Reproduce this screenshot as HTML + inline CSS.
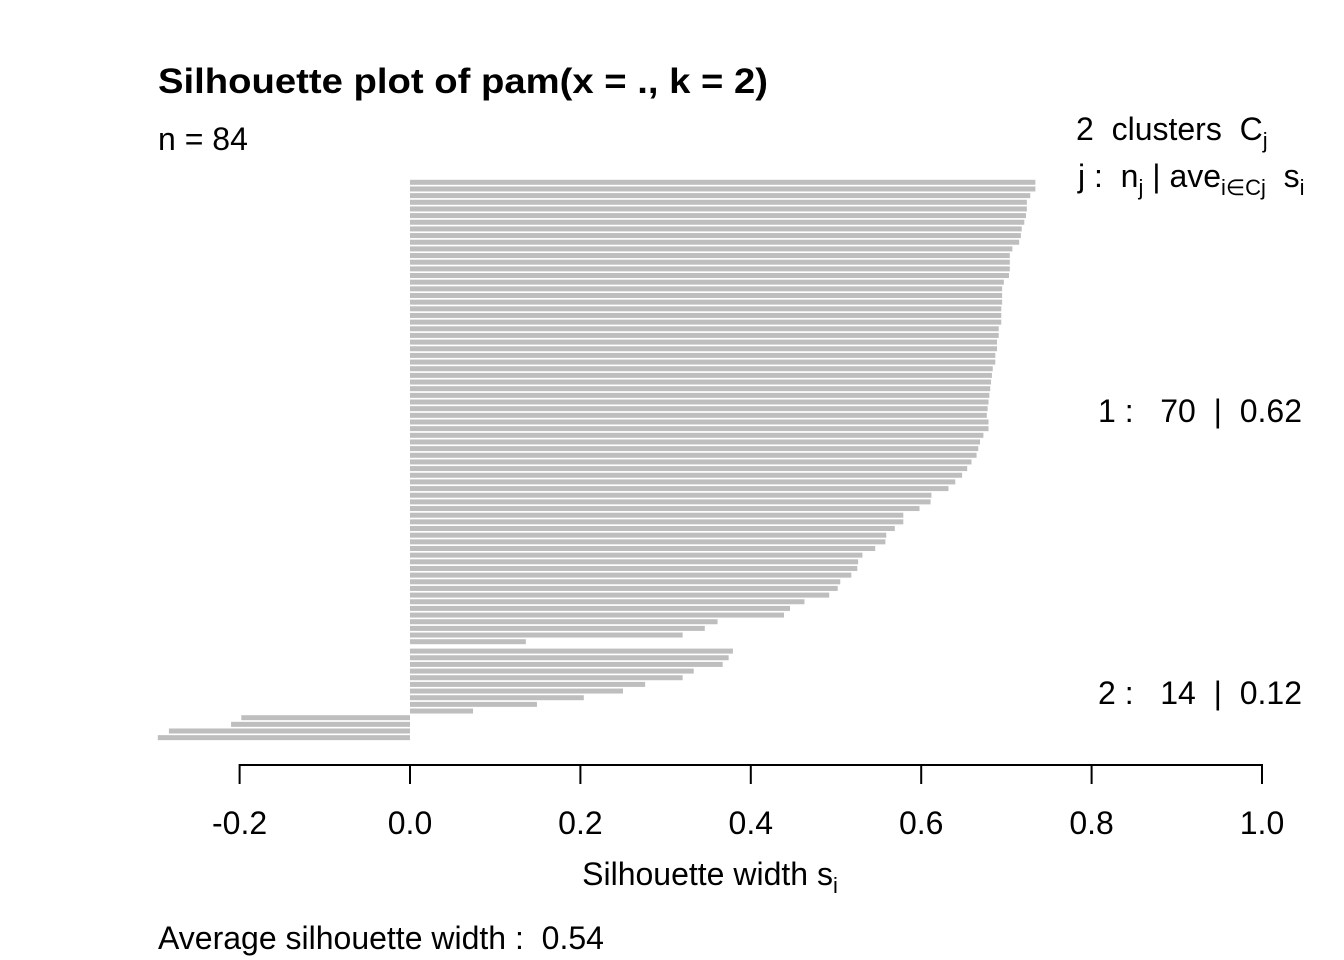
<!DOCTYPE html>
<html><head><meta charset="utf-8"><style>
html,body{margin:0;padding:0;background:#fff}
svg{display:block;font-family:"Liberation Sans",Arial,sans-serif}
text{white-space:pre}
</style></head><body>
<svg id="chart" width="1344" height="960" viewBox="0 0 1344 960" xmlns="http://www.w3.org/2000/svg">
<text x="158" y="93" font-size="35" font-weight="bold" textLength="610" lengthAdjust="spacingAndGlyphs">Silhouette plot of pam(x = ., k = 2)</text>
<text x="158" y="150" font-size="32">n = 84</text>
<text x="1076" y="140" font-size="32">2  clusters  C<tspan font-size="22" dy="8">j</tspan></text>
<text x="1078" y="187" font-size="32">j :  n<tspan font-size="22" dy="8">j</tspan><tspan dy="-8"> | ave</tspan><tspan font-size="22" dy="8">i∈Cj</tspan><tspan dy="-8">  s</tspan><tspan font-size="22" dy="8">i</tspan></text>
<text x="1098" y="422" font-size="32">1 :   70  |  0.62</text>
<text x="1098" y="704" font-size="32">2 :   14  |  0.12</text>
<g id="bars"></g>
<g id="axis"></g>
<text x="710" y="885" font-size="32" text-anchor="middle">Silhouette width s<tspan font-size="22" dy="8">i</tspan></text>
<text x="158" y="949" font-size="32">Average silhouette width :  0.54</text>
</svg>
<script>
const cluster1 = [0.734,0.734,0.728,0.724,0.724,0.723,0.721,0.718,0.717,0.715,0.707,0.704,0.704,0.704,0.703,0.697,0.695,0.695,0.695,0.694,0.694,0.694,0.691,0.691,0.689,0.689,0.687,0.687,0.684,0.683,0.682,0.681,0.680,0.679,0.678,0.677,
0.679,0.679,0.673,0.669,0.667,0.665,0.659,0.654,0.648,0.640,0.632,0.612,0.611,0.598,0.579,0.579,0.569,0.559,0.558,0.546,0.531,0.526,0.525,0.518,0.505,0.502,0.492,0.463,0.446,0.439,0.361,0.346,0.320,0.136];
const cluster2 = [0.379,0.374,0.367,0.333,0.320,0.276,0.250,0.204,0.149,0.074,-0.198,-0.210,-0.283,-0.296];
const ticks = [-0.2,0.0,0.2,0.4,0.6,0.8,1.0];
const tickLabels = ["-0.2","0.0","0.2","0.4","0.6","0.8","1.0"];
const NS="http://www.w3.org/2000/svg";
const xs = v => 410 + v*852;
const pitch = 6.658, gap = 9.4, top0 = 182.3, bh = 5;
const bars = document.getElementById('bars');
function bar(v, cy, name){
  const r=document.createElementNS(NS,'rect');
  const x0=Math.min(xs(0),xs(v)), x1=Math.max(xs(0),xs(v));
  r.setAttribute('x',x0);r.setAttribute('y',cy-bh/2);
  r.setAttribute('width',x1-x0);r.setAttribute('height',bh);
  r.setAttribute('fill','#bebebe');
  
  
  bars.appendChild(r);
}
cluster1.forEach((v,i)=>bar(v, top0+i*pitch, 'bar-cluster-1'));
const c2start = top0+(cluster1.length-1)*pitch+gap;
cluster2.forEach((v,i)=>bar(v, c2start+i*pitch, 'bar-cluster-2'));
const ax=document.getElementById('axis');
const line=document.createElementNS(NS,'line');
line.setAttribute('x1',xs(ticks[0]));line.setAttribute('x2',xs(ticks[ticks.length-1]));
line.setAttribute('y1',765);line.setAttribute('y2',765);
line.setAttribute('stroke','#000');line.setAttribute('stroke-width','2');


ax.appendChild(line);
ticks.forEach((t,i)=>{
  const l=document.createElementNS(NS,'line');
  l.setAttribute('x1',xs(t));l.setAttribute('x2',xs(t));
  l.setAttribute('y1',764);l.setAttribute('y2',784);
  l.setAttribute('stroke','#000');l.setAttribute('stroke-width','2');
  
  
  ax.appendChild(l);
  const tx=document.createElementNS(NS,'text');
  tx.setAttribute('x',xs(t));tx.setAttribute('y',834);
  tx.setAttribute('font-size','32');tx.setAttribute('text-anchor','middle');
  tx.textContent=tickLabels[i];
  
  
  ax.appendChild(tx);
});
</script>
</body></html>
